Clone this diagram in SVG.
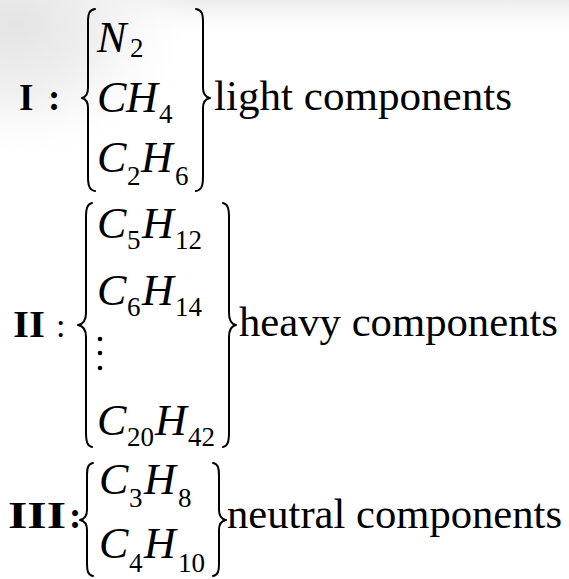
<svg xmlns="http://www.w3.org/2000/svg" width="569" height="579" viewBox="0 0 569 579">
<defs>
<radialGradient id="haze" cx="0.05" cy="0.1" r="0.6">
<stop offset="0" stop-color="#e4e4e4"/>
<stop offset="0.5" stop-color="#f1f1f1"/>
<stop offset="1" stop-color="#ffffff" stop-opacity="0"/>
</radialGradient>
<linearGradient id="top" x1="0" y1="0" x2="0" y2="1">
<stop offset="0" stop-color="#ececec"/>
<stop offset="1" stop-color="#ffffff" stop-opacity="0"/>
</linearGradient>
<style>
.m{font-family:"Liberation Serif","Times New Roman",serif;font-style:italic;font-size:44px;fill:#000}
.s{font-family:"Liberation Serif","Times New Roman",serif;font-size:27px;fill:#000}
.b{font-family:"Liberation Serif","Times New Roman",serif;font-weight:bold;font-size:37px;fill:#000}
.t{font-family:"Liberation Serif","Times New Roman",serif;font-size:43px;fill:#000}
.br{fill:none;stroke:#000;stroke-width:2;stroke-linecap:round;stroke-linejoin:round}
</style>
</defs>
<rect width="569" height="579" fill="#ffffff"/>
<rect width="569" height="40" fill="url(#top)"/>
<rect width="300" height="240" fill="url(#haze)"/>

<g id="group1">
<text class="b" x="19" y="110">I</text>
<text class="b" x="48" y="110">:</text>
<path class="br" d="M95,9 C89,10 88,14 88,22 L88,88 C88,94 86,97 82,98 C86,99 88,102 88,108 L88,176 C88,185 89,190 95,191"/>
<text class="m" x="97" y="52">N</text><text class="s" x="130" y="57">2</text>
<text class="m" x="97" y="112">C</text><text class="m" x="126" y="112">H</text><text class="s" x="159" y="123">4</text>
<text class="m" x="97" y="172">C</text><text class="s" x="127" y="185">2</text><text class="m" x="141" y="172">H</text><text class="s" x="175" y="185">6</text>
<path class="br" d="M196,9 C202,10 203,14 203,22 L203,88 C203,94 205,97 210,98 C205,99 203,102 203,108 L203,176 C203,185 202,190 196,191"/>
<text class="t" x="214" y="110" textLength="298" lengthAdjust="spacingAndGlyphs">light components</text>
</g>

<g id="group2">
<text class="b" x="13" y="337" textLength="32" lengthAdjust="spacingAndGlyphs">II</text>
<text class="t" x="56" y="337" style="font-size:34px">:</text>
<path class="br" d="M92,203 C87,204 86,209 86,218 L86,313 C86,320 84,324 78,325 C84,326 86,330 86,337 L86,432 C86,441 87,446 92,447"/>
<text class="m" x="97" y="238">C</text><text class="s" x="127" y="249">5</text><text class="m" x="142" y="238">H</text><text class="s" x="175" y="249">12</text>
<text class="m" x="97" y="305">C</text><text class="s" x="127" y="316">6</text><text class="m" x="142" y="305">H</text><text class="s" x="175" y="316">14</text>
<circle cx="100" cy="339" r="2.3"/><circle cx="100" cy="353" r="2.3"/><circle cx="100" cy="368" r="2.3"/>
<text class="m" x="97" y="435">C</text><text class="s" x="127" y="446">20</text><text class="m" x="155" y="435">H</text><text class="s" x="188" y="446">42</text>
<path class="br" d="M223,203 C228,204 229,209 229,218 L229,313 C229,320 231,324 236,325 C231,326 229,330 229,337 L229,432 C229,441 228,446 223,447"/>
<text class="t" x="239" y="336" textLength="319" lengthAdjust="spacingAndGlyphs">heavy components</text>
</g>

<g id="group3">
<text class="b" x="8" y="528" textLength="58" lengthAdjust="spacingAndGlyphs">III</text>
<text class="b" x="69" y="528">:</text>
<path class="br" d="M93,463 C88,464 87,468 87,475 L87,510 C87,516 85,519 80,520 C85,521 87,524 87,530 L87,564 C87,571 88,575 93,576"/>
<text class="m" x="99" y="494">C</text><text class="s" x="129" y="507">3</text><text class="m" x="144" y="494">H</text><text class="s" x="178" y="507">8</text>
<text class="m" x="99" y="558">C</text><text class="s" x="129" y="572">4</text><text class="m" x="144" y="558">H</text><text class="s" x="178" y="572">10</text>
<path class="br" d="M213,463 C218,464 219,468 219,475 L219,510 C219,516 221,519 226,520 C221,521 219,524 219,530 L219,564 C219,571 218,575 213,576"/>
<text class="t" x="227" y="528" textLength="335" lengthAdjust="spacingAndGlyphs">neutral components</text>
</g>
</svg>
